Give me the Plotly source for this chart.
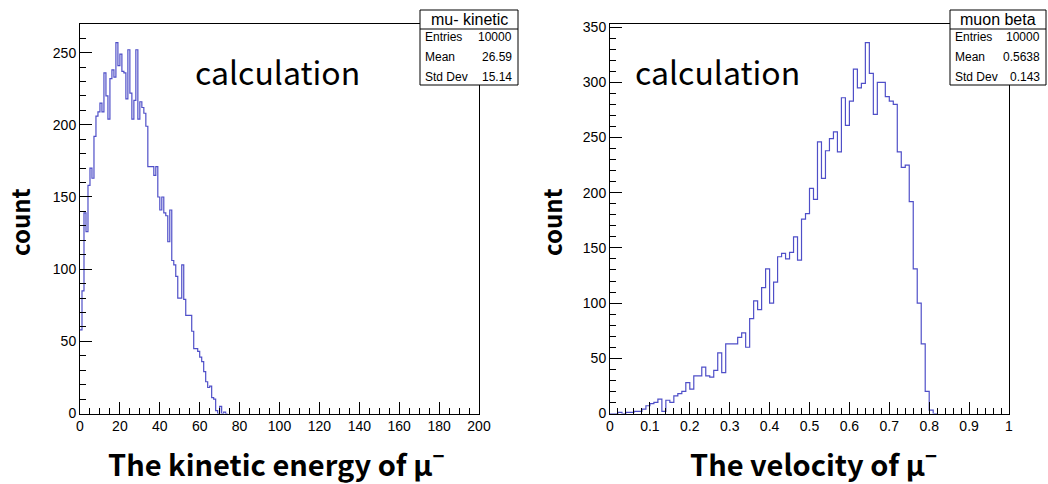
import numpy as np
import plotly.graph_objects as go

# ---------------- data ----------------
stat_names = ["Entries", "Mean", "Std Dev"]

ke_name = "mu- kinetic"
ke_stat_values = ["10000", "26.59", "15.14"]
ke_bin_width = 1.0          # 200 bins on [0, 200]
ke_counts = [58, 85, 139, 126, 158, 170, 163, 192, 206, 209,
             215, 209, 236, 220, 204, 232, 238, 233, 257, 241,
             249, 237, 236, 218, 252, 222, 204, 217, 252, 204,
             216, 212, 208, 199, 171, 171, 171, 165, 171, 150,
             141, 150, 139, 137, 119, 141, 106, 103, 95, 80,
             80, 103, 79, 68, 68, 68, 57, 45, 45, 43,
             39, 36, 29, 22, 18, 19, 11, 10, 2, 0,
             5, 0, 1, 0]

beta_name = "muon beta"
beta_stat_values = ["10000", "0.5638", "0.143"]
beta_bin_width = 0.01       # 100 bins on [0, 1]
beta_counts = [0, 0, 1, 0, 1, 1, 2, 2, 4, 7,
               9, 10, 13, 2, 12, 10, 16, 18, 20, 28,
               22, 34, 34, 42, 34, 33, 39, 55, 37, 63,
               63, 63, 69, 73, 60, 86, 102, 94, 114, 131,
               100, 119, 142, 145, 140, 146, 160, 139, 176, 181,
               204, 194, 246, 213, 238, 249, 255, 237, 286, 261,
               283, 312, 295, 299, 336, 308, 271, 300, 300, 287,
               283, 280, 237, 223, 225, 192, 131, 100, 63, 20,
               3, 0]

ke_xtitle = "The kinetic energy of μ<sup>−</sup>"
beta_xtitle = "The velocity of μ<sup>−</sup>"
ytitle = "count"
note_text = "calculation"

# ---------------- layout helpers ----------------
W, H = 1048, 484
def px(x):
    return x / W
def py(y):
    return 1 - y / H

LINE = "#4f4fc8"
TICKFONT = dict(family="Liberation Sans, Arial, sans-serif", size=14, color="black")
TITLEFONT = "Noto Sans CJK JP, Noto Sans, sans-serif"


def step_xy(counts, width):
    edges = np.arange(len(counts) + 1) * width
    ys = list(counts) + [counts[-1]]
    return edges, ys


fig = go.Figure()
ex, ey = step_xy(ke_counts, ke_bin_width)
fig.add_trace(go.Scatter(x=ex, y=ey, mode="lines", line=dict(color=LINE, width=1.2, shape="hv"),
                         xaxis="x", yaxis="y", showlegend=False, hoverinfo="skip"))
bx, by = step_xy(beta_counts, beta_bin_width)
fig.add_trace(go.Scatter(x=bx, y=by, mode="lines", line=dict(color=LINE, width=1.2, shape="hv"),
                         xaxis="x2", yaxis="y2", showlegend=False, hoverinfo="skip"))

ydom = [py(413.5), py(24)]
common = dict(showline=True, linecolor="black", linewidth=1, mirror=True, showgrid=False,
              zeroline=False, ticks="inside", ticklen=12, tickwidth=1, tickcolor="black",
              tickfont=TICKFONT)

fig.update_layout(
    autosize=True, margin=dict(l=0, r=0, t=0, b=0, autoexpand=False),
    paper_bgcolor="white", plot_bgcolor="white", hovermode=False,
    xaxis=dict(domain=[px(80), px(479)], range=[0, 200], tick0=0, dtick=20,
               minor=dict(dtick=5, ticks="inside", ticklen=6, tickcolor="black"), anchor="y", **common),
    yaxis=dict(domain=ydom, range=[0, 269.85], tick0=0, dtick=50,
               minor=dict(dtick=10, ticks="inside", ticklen=6, tickcolor="black"), anchor="x", **common),
    xaxis2=dict(domain=[px(610), px(1009)], range=[0, 1], tick0=0, dtick=0.1,
                minor=dict(dtick=0.02, ticks="inside", ticklen=6, tickcolor="black"), anchor="y2", **common),
    yaxis2=dict(domain=ydom, range=[0, 352.8], tick0=0, dtick=50,
                minor=dict(dtick=10, ticks="inside", ticklen=6, tickcolor="black"), anchor="x2", **common),
)

shapes = []
annots = []

def stats_box(x0, x1, name, values):
    shapes.append(dict(type="rect", xref="paper", yref="paper", x0=px(x0), x1=px(x1),
                       y0=py(85), y1=py(10), fillcolor="white", line=dict(color="black", width=1), layer="above"))
    shapes.append(dict(type="line", xref="paper", yref="paper", x0=px(x0), x1=px(x1),
                       y0=py(29), y1=py(29), line=dict(color="black", width=1), layer="above"))
    annots.append(dict(xref="paper", yref="paper", x=px((x0 + x1) / 2), y=py(19), text=name,
                       showarrow=False, xanchor="center", yanchor="middle",
                       font=dict(family="Liberation Sans, Arial", size=16, color="black")))
    for i, (n, v) in enumerate(zip(stat_names, values)):
        yy = py(37 + 20 * i)
        annots.append(dict(xref="paper", yref="paper", x=px(x0 + 3), y=yy, text=n, showarrow=False,
                           xanchor="left", yanchor="middle",
                           font=dict(family="Liberation Sans, Arial", size=12, color="black")))
        annots.append(dict(xref="paper", yref="paper", x=px(x1 - 4), y=yy, text=v, showarrow=False,
                           xanchor="right", yanchor="middle",
                           font=dict(family="Liberation Sans, Arial", size=12, color="black")))

stats_box(420, 518, ke_name, ke_stat_values)
stats_box(950, 1046, beta_name, beta_stat_values)

for cx, t in [(275.5, ke_xtitle), (813, beta_xtitle)]:
    annots.append(dict(xref="paper", yref="paper", x=px(cx), y=py(462), text="<b>" + t + "</b>",
                       showarrow=False, xanchor="center", yanchor="middle",
                       font=dict(family=TITLEFONT, size=29, color="black")))
for cx in [19, 551]:
    annots.append(dict(xref="paper", yref="paper", x=px(cx), y=py(222), text="<b>" + ytitle + "</b>",
                       showarrow=False, xanchor="center", yanchor="middle", textangle=-90,
                       font=dict(family=TITLEFONT, size=24, color="black")))
for lx in [193, 633]:
    annots.append(dict(xref="paper", yref="paper", x=px(lx), y=py(71), text=note_text,
                       showarrow=False, xanchor="left", yanchor="middle",
                       font=dict(family=TITLEFONT, size=32, color="black")))

fig.update_layout(shapes=shapes, annotations=annots)

fill_page = """
var h = document.documentElement, b = document.body;
h.style.margin = '0'; h.style.padding = '0'; h.style.height = '100%'; h.style.overflow = 'hidden';
b.style.margin = '0'; b.style.padding = '0'; b.style.height = '100%'; b.style.overflow = 'hidden';
var gd = document.getElementById('{plot_id}');
if (gd.parentElement) { gd.parentElement.style.height = '100%'; gd.parentElement.style.width = '100%'; }
gd.style.width = '100%'; gd.style.height = '100%';
Plotly.Plots.resize(gd);
"""

fig.write_html("out.html", default_width="100%", default_height="100%",
               config={"displayModeBar": False, "responsive": True},
               post_script=fill_page)
